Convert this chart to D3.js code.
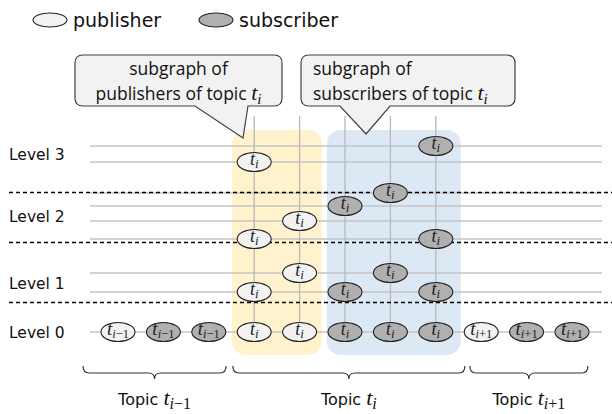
<!DOCTYPE html>
<html>
<head>
<meta charset="utf-8">
<script src="https://cdn.jsdelivr.net/npm/d3@7"></script>
<style>
  body { margin: 0; background: #fff; }
  svg { display: block; }
  .lbl { font-family: "DejaVu Sans", sans-serif; fill: #111; }
  .call { font-family: "Open Sans", sans-serif; fill: #111; }
  .math { font-family: "Liberation Serif", serif; font-style: italic; }
</style>
</head>
<body>
<div id="chart"></div>
<script>
// lanes from bottom to top, grouped by level
var laneIds = ["L0", "L1a", "L1b", "L2a", "L2b", "L2c", "L2d", "L3a", "L3b"];
var levels = [
  {name: "Level 0", lanes: ["L0"]},
  {name: "Level 1", lanes: ["L1a", "L1b"]},
  {name: "Level 2", lanes: ["L2a", "L2b", "L2c", "L2d"]},
  {name: "Level 3", lanes: ["L3a", "L3b"]}
];
var roles = ["publisher", "subscriber"];
var topics = [
  {sub: "i\u22121", label: "Topic", from: -0.77, to: 2.38},
  {sub: "i", label: "Topic", from: 2.53, to: 7.64},
  {sub: "i+1", label: "Topic", from: 7.75, to: 10.35}
];
var subgraphs = [
  {name: "publishers", from: 2.51, to: 4.49},
  {name: "subscribers", from: 4.6, to: 7.55}
];
var nodes = [
  {col: 0, lane: "L0", role: "publisher", sub: "i\u22121"},
  {col: 1, lane: "L0", role: "subscriber", sub: "i\u22121"},
  {col: 2, lane: "L0", role: "subscriber", sub: "i\u22121"},
  {col: 3, lane: "L0", role: "publisher", sub: "i"},
  {col: 4, lane: "L0", role: "publisher", sub: "i"},
  {col: 5, lane: "L0", role: "subscriber", sub: "i"},
  {col: 6, lane: "L0", role: "subscriber", sub: "i"},
  {col: 7, lane: "L0", role: "subscriber", sub: "i"},
  {col: 8, lane: "L0", role: "publisher", sub: "i+1"},
  {col: 9, lane: "L0", role: "subscriber", sub: "i+1"},
  {col: 10, lane: "L0", role: "subscriber", sub: "i+1"},
  {col: 3, lane: "L3a", role: "publisher", sub: "i"},
  {col: 3, lane: "L2a", role: "publisher", sub: "i"},
  {col: 3, lane: "L1a", role: "publisher", sub: "i"},
  {col: 4, lane: "L2b", role: "publisher", sub: "i"},
  {col: 4, lane: "L1b", role: "publisher", sub: "i"},
  {col: 5, lane: "L2c", role: "subscriber", sub: "i"},
  {col: 5, lane: "L1a", role: "subscriber", sub: "i"},
  {col: 6, lane: "L2d", role: "subscriber", sub: "i"},
  {col: 6, lane: "L1b", role: "subscriber", sub: "i"},
  {col: 7, lane: "L3b", role: "subscriber", sub: "i"},
  {col: 7, lane: "L2a", role: "subscriber", sub: "i"},
  {col: 7, lane: "L1a", role: "subscriber", sub: "i"}
];
var stackCols = [3, 4, 5, 6, 7];

var W = 612, H = 414;
var svg = d3.select("#chart").append("svg").attr("width", W).attr("height", H);

var x = d3.scaleLinear().domain([0, 10]).range([118, 572]);
var y = d3.scaleOrdinal().domain(laneIds).range([332, 292, 273, 239, 221, 206, 193, 162, 146]);
var fill = d3.scaleOrdinal().domain(roles).range(["#f2f2f2", "#b0b0b0"]);
var boxFill = d3.scaleOrdinal().domain(["publishers", "subscribers"]).range(["#fff2cc", "#dde8f5"]);

// shaded subgraph areas
svg.append("g").selectAll("rect").data(subgraphs).join("rect")
  .attr("x", function(d){ return x(d.from); })
  .attr("width", function(d){ return x(d.to) - x(d.from); })
  .attr("y", 130).attr("height", 225)
  .attr("rx", 14)
  .attr("fill", function(d){ return boxFill(d.name); });

// lane lines
svg.append("g").selectAll("line").data(laneIds).join("line")
  .attr("x1", 90).attr("x2", 602)
  .attr("y1", function(d){ return y(d); }).attr("y2", function(d){ return y(d); })
  .attr("stroke", "#c4c4c4").attr("stroke-width", 1.3);

// vertical lines
svg.append("g").selectAll("line").data(stackCols).join("line")
  .attr("x1", function(d){ return x(d); }).attr("x2", function(d){ return x(d); })
  .attr("y1", 116).attr("y2", y("L0"))
  .attr("stroke", "#b8b8b8").attr("stroke-width", 1.3);

// level separators
var seps = d3.range(1, levels.length).map(function(i){
  var lo = d3.min(levels[i].lanes, function(l){ return y(l); });
  var hi = d3.max(levels[i - 1].lanes, function(l){ return y(l); });
  return (lo + hi) / 2;
});
svg.append("g").selectAll("line").data(seps).join("line")
  .attr("x1", 9).attr("x2", W)
  .attr("y1", function(d){ return d; }).attr("y2", function(d){ return d; })
  .attr("stroke", "#000").attr("stroke-width", 1.4).attr("stroke-dasharray", "4,3");

// level labels
svg.append("g").selectAll("text").data(levels).join("text")
  .attr("class", "lbl")
  .attr("x", 9)
  .attr("y", function(d){
    var ys = d.lanes.map(function(l){ return y(l); });
    return (d3.min(ys) + d3.max(ys)) / 2 + 6;
  })
  .attr("font-size", 15.5)
  .text(function(d){ return d.name; });

// t with subscript, italic letters and upright digits/signs
function mathLabel(sel, sub, big, small, shift) {
  sel.append("tspan").attr("class", "math").attr("font-size", big).text("t");
  var m = sub.match(/^(i)(.*)$/);
  sel.append("tspan").attr("class", "math").attr("font-size", small)
    .attr("dy", shift).text(m[1]);
  if (m[2]) {
    sel.append("tspan").attr("font-family", "Liberation Serif").attr("font-size", small)
      .text(m[2]);
  }
}

// nodes
var gn = svg.append("g").selectAll("g").data(nodes).join("g")
  .attr("transform", function(d){ return "translate(" + x(d.col) + "," + y(d.lane) + ")"; });
gn.append("ellipse")
  .attr("rx", 17).attr("ry", 9.5)
  .attr("fill", function(d){ return fill(d.role); })
  .attr("stroke", "#222").attr("stroke-width", 1.1);
gn.append("text")
  .attr("text-anchor", "middle")
  .attr("y", 3)
  .attr("fill", "#222")
  .each(function(d){
    var long = d.sub.length > 1;
    mathLabel(d3.select(this), d.sub, long ? 19 : 18, long ? 12.5 : 13, 3);
  });

// braces and topic labels
function bracePath(xa, xb, y0) {
  var mid = (xa + xb) / 2;
  return "M" + xa + "," + y0 + " Q" + xa + "," + (y0 + 7) + " " + (xa + 6) + "," + (y0 + 7) +
    " H" + (mid - 6) + " Q" + mid + "," + (y0 + 7) + " " + mid + "," + (y0 + 13) +
    " Q" + mid + "," + (y0 + 7) + " " + (mid + 6) + "," + (y0 + 7) +
    " H" + (xb - 6) + " Q" + xb + "," + (y0 + 7) + " " + xb + "," + y0;
}
svg.append("g").selectAll("path").data(topics).join("path")
  .attr("d", function(d){ return bracePath(x(d.from), x(d.to), 366); })
  .attr("fill", "none").attr("stroke", "#333").attr("stroke-width", 1.2);
svg.append("g").selectAll("text").data(topics).join("text")
  .attr("class", "lbl")
  .attr("x", function(d){ return (x(d.from) + x(d.to)) / 2; })
  .attr("y", 405)
  .attr("text-anchor", "middle")
  .attr("font-size", 16)
  .each(function(d){
    var t = d3.select(this);
    t.append("tspan").text(d.label + " ");
    mathLabel(t, d.sub, 22, 16, 4);
  });

// legend
var lg = svg.append("g").selectAll("g").data(roles).join("g")
  .attr("transform", function(d, i){ return "translate(" + (50 + i * 166) + ",20)"; });
lg.append("ellipse").attr("rx", 17).attr("ry", 7)
  .attr("fill", function(d){ return fill(d); })
  .attr("stroke", "#222").attr("stroke-width", 1.1);
lg.append("text").attr("class", "lbl")
  .attr("x", 23).attr("y", 7).attr("font-size", 19)
  .text(function(d){ return d; });

// callouts
function calloutPath(c) {
  var r = 8;
  return "M" + (c.x0 + r) + "," + c.y0 + " H" + (c.x1 - r) +
    " Q" + c.x1 + "," + c.y0 + " " + c.x1 + "," + (c.y0 + r) +
    " V" + (c.y1 - r) + " Q" + c.x1 + "," + c.y1 + " " + (c.x1 - r) + "," + c.y1 +
    " H" + c.bx1 + " L" + c.tx + "," + c.ty + " L" + c.bx0 + "," + c.y1 +
    " H" + (c.x0 + r) + " Q" + c.x0 + "," + c.y1 + " " + c.x0 + "," + (c.y1 - r) +
    " V" + (c.y0 + r) + " Q" + c.x0 + "," + c.y0 + " " + (c.x0 + r) + "," + c.y0 + " Z";
}
var callouts = [
  {x0: 75, x1: 282, y0: 55, y1: 106, bx0: 195, bx1: 248, tx: 243, ty: 138,
   lines: ["subgraph of", "publishers of topic "], anchor: "middle"},
  {x0: 301, x1: 515, y0: 55, y1: 106, bx0: 340, bx1: 390, tx: 366, ty: 134,
   lines: ["subgraph of", "subscribers of topic "], anchor: "start"}
];
var gc = svg.append("g").selectAll("g").data(callouts).join("g");
gc.append("path").attr("d", calloutPath)
  .attr("fill", "#f2f2f2").attr("stroke", "#404040").attr("stroke-width", 1.2);
gc.each(function(c){
  var g = d3.select(this);
  var tx = c.anchor === "middle" ? (c.x0 + c.x1) / 2 : c.x0 + 12;
  g.append("text").attr("class", "call").attr("x", tx).attr("y", 75)
    .attr("text-anchor", c.anchor).attr("font-size", 17.5).text(c.lines[0]);
  var t2 = g.append("text").attr("class", "call").attr("x", tx).attr("y", 100)
    .attr("text-anchor", c.anchor).attr("font-size", 17.5);
  t2.append("tspan").text(c.lines[1]);
  mathLabel(t2, "i", 22, 15, 4);
});
</script>
</body>
</html>
